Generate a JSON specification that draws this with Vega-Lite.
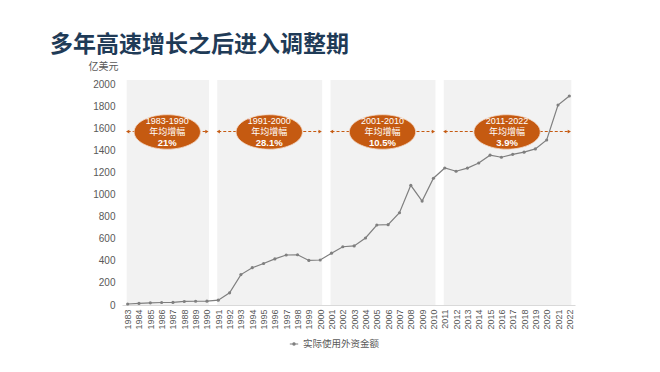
{
  "$schema": "https://vega.github.io/schema/vega-lite/v6.json",
  "autosize": {"type": "none"},
  "padding": {"left": 122, "top": 84, "right": 85, "bottom": 67},
  "width": 453,
  "height": 221,
  "background": "#ffffff",
  "title": {
    "text": "多年高速增长之后进入调整期",
    "anchor": "start",
    "frame": "group",
    "dx": -72,
    "offset": 4,
    "fontSize": 23,
    "fontWeight": "bold",
    "color": "#1F3B57",
    "font": "Noto Sans CJK SC"
  },
  "config": {
    "font": "Liberation Sans, Noto Sans CJK SC, sans-serif",
    "view": {"stroke": null},
    "axis": {"labelOverlap": false, "labelFlush": false}
  },
  "datasets": {
    "fdi": [
      {"year": 1983, "value": 9.16, "series": "实际使用外资金额"},
      {"year": 1984, "value": 14.19, "series": "实际使用外资金额"},
      {"year": 1985, "value": 19.56, "series": "实际使用外资金额"},
      {"year": 1986, "value": 22.44, "series": "实际使用外资金额"},
      {"year": 1987, "value": 23.14, "series": "实际使用外资金额"},
      {"year": 1988, "value": 31.94, "series": "实际使用外资金额"},
      {"year": 1989, "value": 33.92, "series": "实际使用外资金额"},
      {"year": 1990, "value": 34.87, "series": "实际使用外资金额"},
      {"year": 1991, "value": 43.66, "series": "实际使用外资金额"},
      {"year": 1992, "value": 110.08, "series": "实际使用外资金额"},
      {"year": 1993, "value": 275.15, "series": "实际使用外资金额"},
      {"year": 1994, "value": 337.67, "series": "实际使用外资金额"},
      {"year": 1995, "value": 375.21, "series": "实际使用外资金额"},
      {"year": 1996, "value": 417.26, "series": "实际使用外资金额"},
      {"year": 1997, "value": 452.57, "series": "实际使用外资金额"},
      {"year": 1998, "value": 454.63, "series": "实际使用外资金额"},
      {"year": 1999, "value": 403.19, "series": "实际使用外资金额"},
      {"year": 2000, "value": 407.15, "series": "实际使用外资金额"},
      {"year": 2001, "value": 468.78, "series": "实际使用外资金额"},
      {"year": 2002, "value": 527.43, "series": "实际使用外资金额"},
      {"year": 2003, "value": 535.05, "series": "实际使用外资金额"},
      {"year": 2004, "value": 606.3, "series": "实际使用外资金额"},
      {"year": 2005, "value": 724.06, "series": "实际使用外资金额"},
      {"year": 2006, "value": 727.15, "series": "实际使用外资金额"},
      {"year": 2007, "value": 835.21, "series": "实际使用外资金额"},
      {"year": 2008, "value": 1083.12, "series": "实际使用外资金额"},
      {"year": 2009, "value": 940.65, "series": "实际使用外资金额"},
      {"year": 2010, "value": 1147.34, "series": "实际使用外资金额"},
      {"year": 2011, "value": 1239.85, "series": "实际使用外资金额"},
      {"year": 2012, "value": 1210.73, "series": "实际使用外资金额"},
      {"year": 2013, "value": 1239.11, "series": "实际使用外资金额"},
      {"year": 2014, "value": 1285.02, "series": "实际使用外资金额"},
      {"year": 2015, "value": 1355.77, "series": "实际使用外资金额"},
      {"year": 2016, "value": 1337.11, "series": "实际使用外资金额"},
      {"year": 2017, "value": 1363.15, "series": "实际使用外资金额"},
      {"year": 2018, "value": 1383.05, "series": "实际使用外资金额"},
      {"year": 2019, "value": 1412.25, "series": "实际使用外资金额"},
      {"year": 2020, "value": 1493.4, "series": "实际使用外资金额"},
      {"year": 2021, "value": 1809.6, "series": "实际使用外资金额"},
      {"year": 2022, "value": 1891.3, "series": "实际使用外资金额"}
    ],
    "periods": [
      {"start": 1983, "end": 1990, "period": "1983-1990", "rate": "21%"},
      {"start": 1991, "end": 2000, "period": "1991-2000", "rate": "28.1%"},
      {"start": 2001, "end": 2010, "period": "2001-2010", "rate": "10.5%"},
      {"start": 2011, "end": 2022, "period": "2011-2022", "rate": "3.9%"}
    ]
  },
  "layer": [
    {
      "data": {"name": "periods"},
      "mark": {"type": "rect", "color": "#F2F2F2", "xOffset": -1, "x2Offset": 2},
      "encoding": {
        "x": {"field": "start", "type": "quantitative",
          "scale": {"domain": [1982.5, 2022.5], "nice": false, "zero": false},
          "axis": {
            "values": [1983,1984,1985,1986,1987,1988,1989,1990,1991,1992,1993,1994,1995,1996,1997,1998,1999,2000,2001,2002,2003,2004,2005,2006,2007,2008,2009,2010,2011,2012,2013,2014,2015,2016,2017,2018,2019,2020,2021,2022],
            "tickCount": 200,
            "format": "d", "labelAngle": -90, "labelFontSize": 9, "labelColor": "#595959",
            "labelPadding": 4, "ticks": false, "grid": false, "domainColor": "#D9D9D9",
            "title": null, "labelOverlap": false, "labelFlush": false
          }
        },
        "x2": {"field": "end"},
        "y": {"datum": 0, "type": "quantitative",
          "scale": {"domain": [0, 2000], "nice": false},
          "axis": {
            "values": [0,200,400,600,800,1000,1200,1400,1600,1800,2000],
            "tickCount": 200,
            "format": "d", "labelOverlap": false,
            "labelFontSize": 10, "labelColor": "#595959", "labelPadding": 7,
            "ticks": false, "grid": false, "domain": false,
            "title": "亿美元", "titleAngle": 0, "titleX": -19, "titleY": -13,
            "titleAlign": "center", "titleFontSize": 10, "titleFontWeight": "normal",
            "titleColor": "#595959"
          }
        },
        "y2": {"datum": 2036}
      }
    },
    {
      "data": {"name": "periods"},
      "mark": {"type": "rule", "color": "#C55A11", "strokeDash": [3, 2], "strokeWidth": 1},
      "encoding": {
        "x": {"field": "start", "type": "quantitative"},
        "x2": {"field": "end"},
        "y": {"datum": 1570, "type": "quantitative"}
      }
    },
    {
      "data": {"name": "periods"},
      "mark": {"type": "point", "shape": "triangle-left", "filled": true, "color": "#C55A11", "size": 14, "opacity": 1},
      "encoding": {
        "x": {"field": "start", "type": "quantitative"},
        "y": {"datum": 1570, "type": "quantitative"}
      }
    },
    {
      "data": {"name": "periods"},
      "mark": {"type": "point", "shape": "triangle-right", "filled": true, "color": "#C55A11", "size": 14, "opacity": 1},
      "encoding": {
        "x": {"field": "end", "type": "quantitative"},
        "y": {"datum": 1570, "type": "quantitative"}
      }
    },
    {
      "data": {"name": "fdi"},
      "mark": {"type": "line", "strokeWidth": 1.2, "color": "#7F7F7F"},
      "encoding": {
        "x": {"field": "year", "type": "quantitative"},
        "y": {"field": "value", "type": "quantitative"},
        "color": {"field": "series", "type": "nominal",
          "scale": {"range": ["#7F7F7F"]},
          "legend": {"orient": "none", "legendX": 167, "legendY": 255, "title": null,
            "symbolType": "M-1,0L1,0M-0.28,0A0.28,0.28,0,1,1,0.28,0A0.28,0.28,0,1,1,-0.28,0Z",
            "symbolFillColor": "#7F7F7F", "symbolStrokeWidth": 1.2, "symbolSize": 70,
            "labelFontSize": 9.5, "labelColor": "#595959", "labelFont": "Noto Sans CJK SC"}
        }
      }
    },
    {
      "data": {"name": "fdi"},
      "mark": {"type": "point", "filled": true, "size": 10, "color": "#7F7F7F", "opacity": 1},
      "encoding": {
        "x": {"field": "year", "type": "quantitative"},
        "y": {"field": "value", "type": "quantitative"}
      }
    },
    {
      "data": {"name": "periods"},
      "transform": [{"calculate": "(datum.start + datum.end) / 2", "as": "mid"}],
      "mark": {"type": "point", "shape": "M-1,0A1,0.52,0,1,0,1,0A1,0.52,0,1,0,-1,0Z",
        "filled": true, "color": "#C55A11", "size": 4400, "opacity": 1,
        "stroke": "#F4D9C8", "strokeWidth": 0.8},
      "encoding": {
        "x": {"field": "mid", "type": "quantitative"},
        "y": {"datum": 1566, "type": "quantitative"}
      }
    },
    {
      "data": {"name": "periods"},
      "transform": [{"calculate": "(datum.start + datum.end) / 2", "as": "mid"}],
      "mark": {"type": "text", "color": "#ffffff", "fontSize": 9, "dy": -11},
      "encoding": {
        "x": {"field": "mid", "type": "quantitative"},
        "y": {"datum": 1566, "type": "quantitative"},
        "text": {"field": "period"}
      }
    },
    {
      "data": {"name": "periods"},
      "transform": [{"calculate": "(datum.start + datum.end) / 2", "as": "mid"}],
      "mark": {"type": "text", "color": "#ffffff", "fontSize": 9, "dy": 0, "font": "Noto Sans CJK SC"},
      "encoding": {
        "x": {"field": "mid", "type": "quantitative"},
        "y": {"datum": 1566, "type": "quantitative"},
        "text": {"value": "年均增幅"}
      }
    },
    {
      "data": {"name": "periods"},
      "transform": [{"calculate": "(datum.start + datum.end) / 2", "as": "mid"}],
      "mark": {"type": "text", "color": "#ffffff", "fontSize": 9.5, "fontWeight": "bold", "dy": 11},
      "encoding": {
        "x": {"field": "mid", "type": "quantitative"},
        "y": {"datum": 1566, "type": "quantitative"},
        "text": {"field": "rate"}
      }
    }
  ]
}
